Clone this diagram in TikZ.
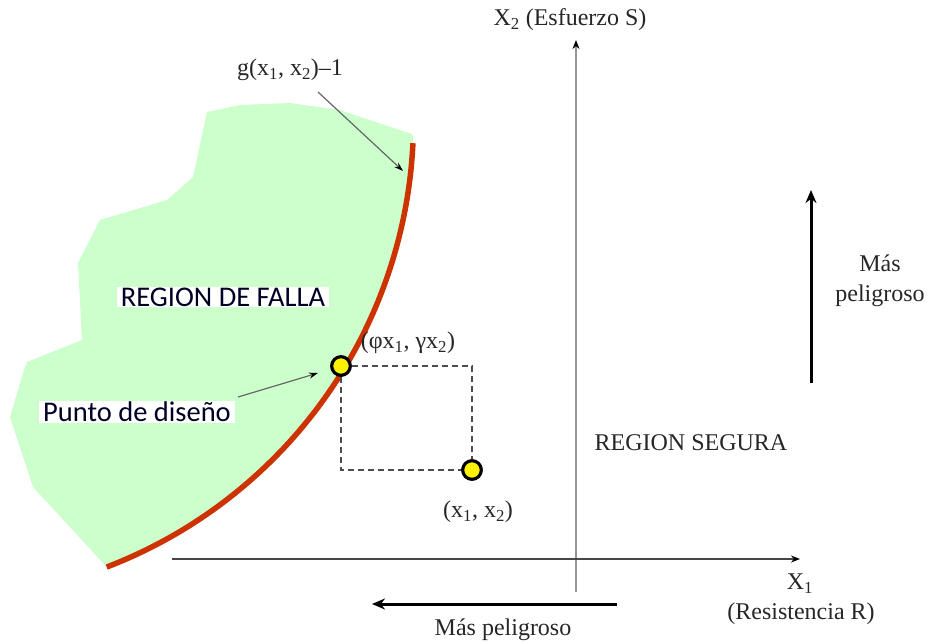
\documentclass[tikz,border=0pt]{standalone}
\usepackage{fontspec}
\setmainfont{Liberation Serif}
\newfontfamily\calfont{Carlito}
\usetikzlibrary{arrows.meta}
\definecolor{failgreen}{RGB}{204,255,204}
\definecolor{limred}{RGB}{204,51,0}
\definecolor{axgray}{RGB}{150,150,150}
\definecolor{darkax}{RGB}{70,70,70}
\begin{document}
\begin{tikzpicture}[x=1pt,y=-1pt,
  serif/.style={font=\fontsize{24}{28}\selectfont, inner sep=0pt, text=black!85},
  sanslab/.style={font=\calfont\fontsize{28.5}{32}\selectfont, fill=white, inner xsep=4pt, inner ysep=1pt, text=black!85!blue},
  ptmark/.style={circle, draw=black, line width=3pt, fill=yellow, minimum size=18.5pt, inner sep=0pt},
  pointer/.style={draw=black!60, line width=1.2pt, -{Stealth[length=9pt,width=6pt,black]}},
  bigarrow/.style={draw=black, line width=3pt, -{Stealth[length=13pt,width=11pt]}},
  dashbox/.style={draw=black!70, line width=1.5pt, dash pattern=on 6pt off 4pt},
]
\useasboundingbox (0,0) rectangle (930,643);
% failure region
\fill[failgreen] plot[domain=1.9:69,samples=80,variable=\t] ({-64.7+478.2*cos(\t)},{120.65+478.2*sin(\t)})
  -- (103,563) -- (33,487) -- (10,417) -- (23,373) -- (27,362) -- (82,340) -- (78,263)
  -- (100,220) -- (167,200) -- (193,177) -- (207,112) -- (240,105) -- (290,103) -- (340,110) -- (412,134) -- cycle;
% limit state curve
\draw[limred, line width=5.5pt] plot[domain=2.7:69,samples=80,variable=\t] ({-64.7+478.2*cos(\t)},{120.65+478.2*sin(\t)});
% axes
\coordinate (vbot) at (576,592);
\coordinate (vtop) at (576,40);
\coordinate (hleft) at (172,559);
\coordinate (hright) at (800,559);
\draw[axgray, line width=2pt, -{Stealth[length=9pt,width=7pt,black]}] (vbot) -- (vtop);
\draw[darkax, line width=2pt, -{Stealth[length=9pt,width=7pt,black]}] (hleft) -- (hright);
% danger arrows
\coordinate (ba1) at (617,604);
\coordinate (ba2) at (372,604);
\draw[bigarrow] (ba1) -- (ba2);
\coordinate (ra1) at (811,383);
\coordinate (ra2) at (811,190);
\draw[bigarrow] (ra1) -- (ra2);
% points
\node[ptmark] (dp) at (341,366) {};
\node[ptmark] (p2) at (472,470) {};
\draw[dashbox] (dp) -| (p2);
\draw[dashbox] (dp) |- (p2);
\node[ptmark] at (dp) {};
\node[ptmark] at (p2) {};
% labels
\node[serif] (x2lab) at (570,20) {X\textsubscript{2} (Esfuerzo S)};
\node[serif] (x1lab) at (800,584) {X\textsubscript{1}};
\node[serif] (reslab) at (801,614) {(Resistencia R)};
\node[serif] (mp1) at (503,630) {Más peligroso};
\node[serif, align=center] (mp2) at (880,281) {Más\\[2pt]peligroso};
\node[serif] (seg) at (691,443) {REGION SEGURA};
\node[serif] (glab) at (290,70) {g(x\textsubscript{1}, x\textsubscript{2})–1};
\node[serif] (dplab) at (408,343) {(φx\textsubscript{1}, γx\textsubscript{2})};
\node[serif] (p2lab) at (478,512) {(x\textsubscript{1}, x\textsubscript{2})};
\node[sanslab] (falla) at (223,297) {REGION DE FALLA};
\node[sanslab] (pdlab) at (137,412) {Punto de diseño};
% pointers
\coordinate (gstart) at (318,92);
\coordinate (gtip) at (403,171);
\draw[pointer] (gstart) -- (gtip);
\coordinate (pdstart) at (238,397);
\coordinate (pdtip) at (318,373);
\draw[pointer] (pdstart) -- (pdtip);
\end{tikzpicture}
\end{document}
